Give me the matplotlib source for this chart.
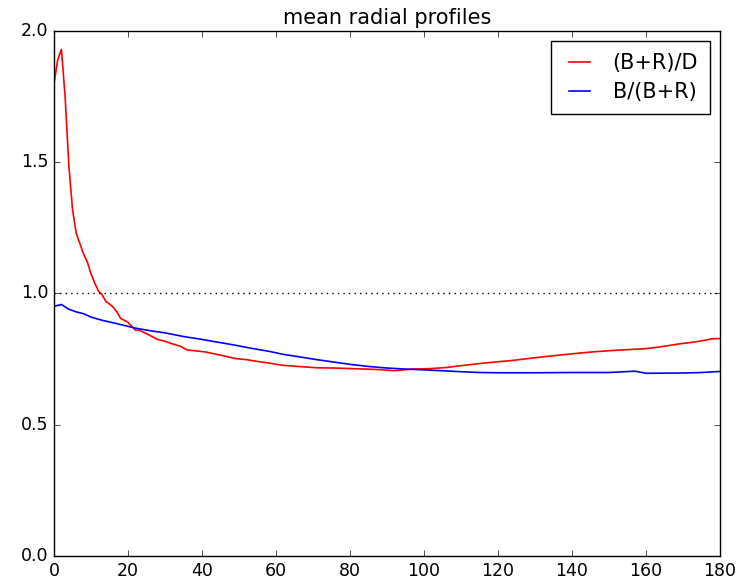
import numpy as np
import matplotlib
matplotlib.use('Agg')
import matplotlib.pyplot as plt

# radius samples and mean profiles
r_ratio = [0, 1, 2, 3, 4, 5, 6, 7, 8, 9, 10, 11, 12, 13, 14, 15, 16, 17, 18, 19,
           20, 21, 22, 23, 25, 27, 28, 30, 32, 34, 36, 38, 41, 44, 46, 49, 52, 55,
           58, 62, 66, 71, 76, 80, 84, 88, 92, 97, 102, 106, 110, 115, 120, 124,
           128, 133, 137, 142, 146, 151, 155, 160, 164, 169, 173, 176, 178, 180]
br_over_d = [1.80, 1.89, 1.93, 1.75, 1.49, 1.32, 1.23, 1.19, 1.15, 1.12, 1.075, 1.04,
             1.01, 0.995, 0.97, 0.96, 0.948, 0.93, 0.905, 0.898, 0.89, 0.875, 0.86,
             0.86, 0.847, 0.832, 0.825, 0.818, 0.808, 0.80, 0.785, 0.782, 0.777,
             0.768, 0.762, 0.752, 0.748, 0.741, 0.735, 0.726, 0.722, 0.717, 0.716,
             0.714, 0.712, 0.710, 0.706, 0.712, 0.714, 0.718, 0.725, 0.733, 0.740,
             0.745, 0.752, 0.760, 0.766, 0.773, 0.778, 0.783, 0.786, 0.790, 0.797,
             0.808, 0.815, 0.822, 0.828, 0.828]

r_frac = [0, 2, 4, 6, 8, 10, 13, 17, 22, 26, 30, 35, 40, 44, 49, 53, 58, 62, 67, 71,
          76, 80, 85, 90, 95, 100, 106, 110, 115, 120, 130, 140, 150, 157, 160, 170,
          175, 180]
b_over_br = [0.951, 0.958, 0.940, 0.930, 0.923, 0.910, 0.898, 0.885, 0.868, 0.858,
             0.850, 0.836, 0.825, 0.815, 0.803, 0.792, 0.780, 0.768, 0.757, 0.748,
             0.738, 0.730, 0.722, 0.716, 0.712, 0.709, 0.705, 0.702, 0.699, 0.698,
             0.698, 0.699, 0.699, 0.704, 0.696, 0.697, 0.699, 0.703]

plt.style.use('classic')
plt.rcParams['figure.facecolor'] = 'white'

fig = plt.figure(figsize=(7.48, 5.8), dpi=100)
fig.subplots_adjust(left=0.0722, right=0.9626, top=0.9466, bottom=0.0414)
ax = fig.add_subplot(111)

ax.plot(r_ratio, br_over_d, 'r-', lw=1.2, label='(B+R)/D')
ax.plot(r_frac, b_over_br, 'b-', lw=1.2, label='B/(B+R)')
ax.axhline(1.0, color='k', linestyle=':')

ax.set_xlim(0, 180)
ax.set_ylim(0, 2)
ax.set_xticks(np.arange(0, 181, 20))
ax.set_yticks(np.arange(0, 2.01, 0.5))
ax.tick_params(labelsize=12.5)
ax.set_title('mean radial profiles', fontsize=15)
leg = ax.legend(loc='upper right', fontsize=15, handlelength=1.6,
                labelspacing=0.45, borderpad=0.55)

fig.savefig('out.png', dpi=100)
